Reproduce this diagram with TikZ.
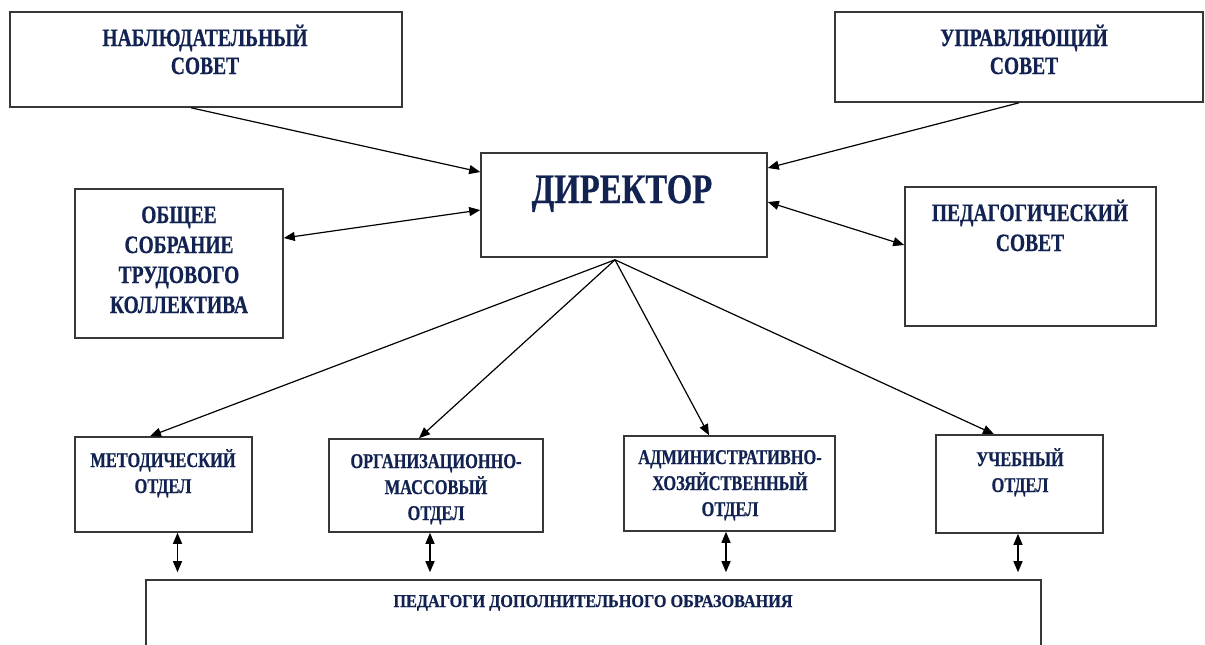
\documentclass[tikz,border=0pt]{standalone}
\usepackage{fontspec}
\newfontfamily\tnr[FakeStretch=0.78,BoldFeatures={FakeBold=0.6}]{Liberation Serif}
\newfontfamily\tnrw[FakeStretch=0.9,BoldFeatures={FakeBold=0.6}]{Liberation Serif}
\usetikzlibrary{arrows.meta,calc}
\definecolor{navy}{RGB}{18,35,82}
\definecolor{edge}{RGB}{55,55,55}
\tikzset{
  box/.style={draw=edge,line width=1.6pt,fill=white,inner sep=0pt},
  txt/.style={text=navy,align=center,inner sep=0pt,anchor=base,font=\tnr\bfseries\fontsize{25}{28}\selectfont},
  stxt/.style={txt,font=\tnr\bfseries\fontsize{21}{26}\selectfont},
  conn/.style={draw=black,line width=1.2pt,-{Triangle[length=11pt,width=9pt]}},
  dconn/.style={draw=black,line width=1.2pt,{Triangle[length=11pt,width=9pt]}-{Triangle[length=11pt,width=9pt]}}
}
\begin{document}
\begin{tikzpicture}[x=1pt,y=-1pt]
\useasboundingbox[fill=white] (0,0) rectangle (1205,645);
% boxes
\node[box,minimum width=392pt,minimum height=95pt] (nab) at (206,59.5) {};
\node[box,minimum width=368pt,minimum height=90pt] (upr) at (1019,57) {};
\node[box,minimum width=286pt,minimum height=104pt] (dir) at (624,205) {};
\node[box,minimum width=208pt,minimum height=149pt] (obs) at (179,263.5) {};
\node[box,minimum width=251pt,minimum height=139pt] (ped) at (1030.5,256.5) {};
\node[box,minimum width=177pt,minimum height=95pt] (met) at (163.5,484.5) {};
\node[box,minimum width=214pt,minimum height=93pt] (org) at (436,485.5) {};
\node[box,minimum width=211pt,minimum height=95pt] (adm) at (729.5,483.5) {};
\node[box,minimum width=167pt,minimum height=98pt] (uch) at (1019.5,484) {};
\node[box,minimum width=895pt,minimum height=100pt] (pdo) at (593.5,630) {};
% texts (anchor = baseline of the last line)
\node[txt] (tnab) at (205,74) {НАБЛЮДАТЕЛЬНЫЙ\\СОВЕТ};
\node[txt] (tupr) at (1024,74) {УПРАВЛЯЮЩИЙ\\СОВЕТ};
\node[txt,font=\tnr\bfseries\fontsize{42}{46}\selectfont] (tdir) at (622,203) {ДИРЕКТОР};
\node[txt,font=\tnr\bfseries\fontsize{25}{30}\selectfont] (tobs) at (179,313) {ОБЩЕЕ\\СОБРАНИЕ\\ТРУДОВОГО\\КОЛЛЕКТИВА};
\node[txt,font=\tnr\bfseries\fontsize{25}{30}\selectfont] (tped) at (1030,251) {ПЕДАГОГИЧЕСКИЙ\\СОВЕТ};
\node[stxt] (tmet) at (163,493) {МЕТОДИЧЕСКИЙ\\ОТДЕЛ};
\node[stxt] (torg) at (436,520) {ОРГАНИЗАЦИОННО-\\МАССОВЫЙ\\ОТДЕЛ};
\node[stxt] (tadm) at (730,516) {АДМИНИСТРАТИВНО-\\ХОЗЯЙСТВЕННЫЙ\\ОТДЕЛ};
\node[stxt] (tuch) at (1020,492) {УЧЕБНЫЙ\\ОТДЕЛ};
\node[txt,font=\tnrw\bfseries\fontsize{18}{22}\selectfont] (tpdo) at (593,607) {ПЕДАГОГИ ДОПОЛНИТЕЛЬНОГО ОБРАЗОВАНИЯ};
% connectors
\coordinate (fan) at ([xshift=-9pt,yshift=-2pt]dir.south);
\draw[conn] ([xshift=-15pt]nab.south) -- ([yshift=33pt]dir.west);
\draw[conn] (upr.south) -- ([yshift=37pt]dir.east);
\draw[dconn] ([yshift=25.5pt]obs.east) -- ([yshift=-5pt]dir.west);
\draw[dconn] ([yshift=3pt]dir.east) -- ([yshift=11.5pt]ped.west);
\draw[conn] (fan) -- ([xshift=-13.5pt]met.north);
\draw[conn] (fan) -- ([xshift=-17pt]org.north);
\draw[conn] (fan) -- ([xshift=-20.5pt]adm.north);
\draw[conn] (fan) -- ([xshift=-25.5pt]uch.north);
\draw[dconn,shorten >=7pt] ([xshift=14pt]met.south) -- ([xshift=14pt]met.south |- pdo.north);
\draw[dconn,shorten >=7pt] ([xshift=-6pt]org.south) -- ([xshift=-6pt]org.south |- pdo.north);
\draw[dconn,shorten >=7pt] ([xshift=-3.5pt]adm.south) -- ([xshift=-3.5pt]adm.south |- pdo.north);
\draw[dconn,shorten >=7pt] ([xshift=-1.5pt]uch.south) -- ([xshift=-1.5pt]uch.south |- pdo.north);
\end{tikzpicture}
\end{document}
